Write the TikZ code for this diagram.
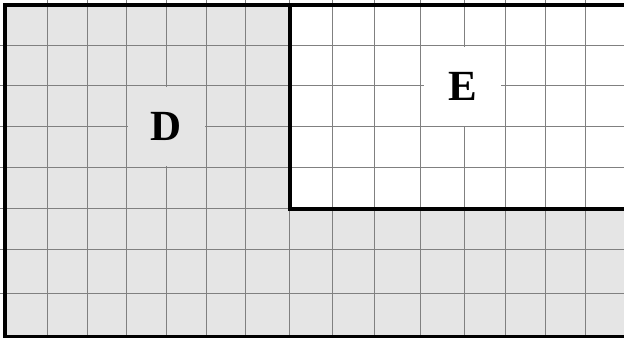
\documentclass[tikz,border=0pt]{standalone}
\usepackage{fontspec}
\setmainfont{Liberation Serif}
\definecolor{regiongray}{RGB}{229,229,229}
\definecolor{gridgray}{RGB}{128,128,128}
\tikzset{
  gridline/.style={draw=gridgray, line width=0.9pt},
  border/.style={draw=black, line width=3.8pt, line cap=rect},
  regionlabel/.style={inner sep=0pt, minimum width=77pt, minimum height=79pt, font=\fontsize{43}{43}\selectfont\bfseries}
}
\begin{document}
\begin{tikzpicture}[x=1pt,y=-1pt]
\useasboundingbox (0,0) rectangle (624,338);
% fills
\fill[regiongray] (4.7,5) rectangle (624,336.5);
\fill[white] (290,5) rectangle (624,208.8);
% grid
\foreach \gx in {47.7,87.3,126.7,166.3,206.3,245.7,289,332.3,374.3,420.3,464.3,505.3,545.7,585.5}
  \draw[gridline] (\gx,0) -- (\gx,338);
\foreach \gy in {45,85.3,126.3,167,208.8,249.3,293.3}
  \draw[gridline] (0,\gy) -- (624,\gy);
% labels
\node[regionlabel, fill=regiongray] (D) at (166.5,126.2) {D};
\node[regionlabel, fill=white] (E) at (462.5,86) {E};
% borders
\draw[border] (4.7,336.5) -- (4.7,5) -- (630,5);
\draw[border] (4.7,336.5) -- (630,336.5);
\draw[border] (290,5) -- (290,208.8) -- (630,208.8);
\end{tikzpicture}
\end{document}
